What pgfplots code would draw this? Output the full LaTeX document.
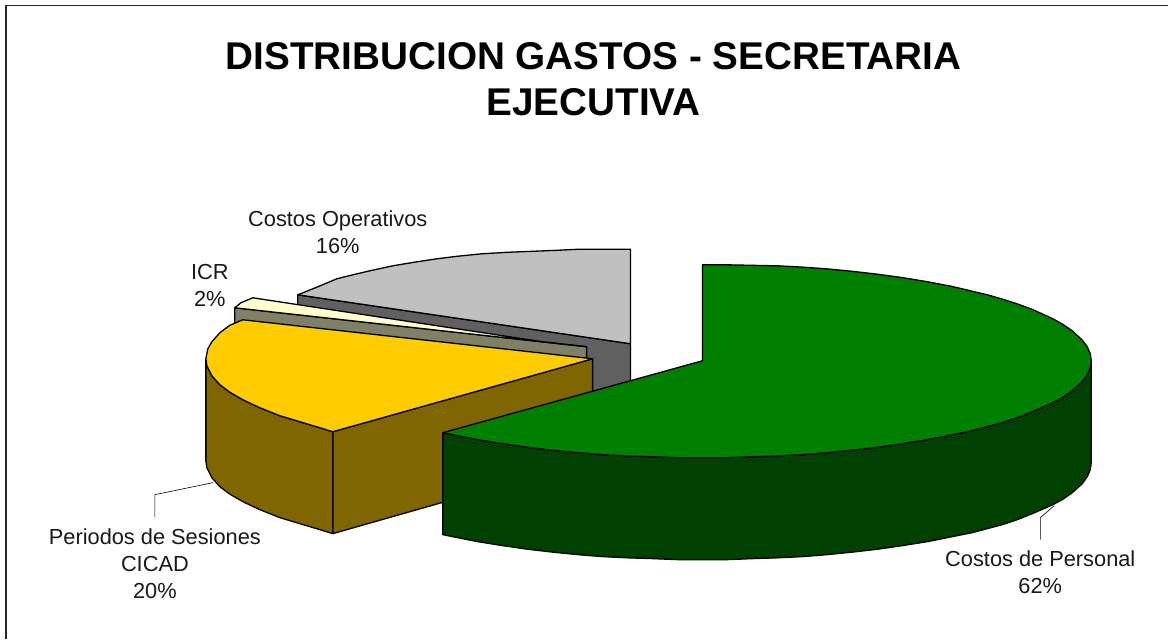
\documentclass[border=0pt]{standalone}
\usepackage{fontspec}
\setmainfont{Liberation Sans}
\usepackage{pgfplots}
\pgfplotsset{compat=1.18}

\definecolor{gtop}{HTML}{008000}
\definecolor{gside}{HTML}{004000}
\definecolor{ytop}{HTML}{FFCC00}
\definecolor{yside}{HTML}{806600}
\definecolor{ctop}{HTML}{FFFFCC}
\definecolor{cside}{HTML}{808066}
\definecolor{stop}{HTML}{C0C0C0}
\definecolor{sside}{HTML}{606060}
\tikzset{lbl/.style={font=\fontsize{21.8}{27}\selectfont, align=center, text=black!90}}

\begin{document}
\begin{tikzpicture}
\begin{axis}[
  scale only axis,
  width=1169pt, height=639pt,
  xmin=0, xmax=1169, ymin=0, ymax=639,
  y dir=reverse,
  hide axis,
  clip=false,
  every axis plot/.append style={line width=1.3pt, line join=round},
]
\path (rel axis cs:0,0) rectangle (rel axis cs:1,1);
% frame, only top and left are in the picture
\addplot[black!85, line width=1.6pt] coordinates {(1169,5.5) (6,5.5) (6,639)};

% Costos Operativos
\addplot[fill=sside, draw=black] coordinates {(298,295) (631,344) (631,445) (298,396)} -- cycle;
\addplot[fill=stop, draw=black] coordinates {
  (298,295) (318,287) (337,279) (353,275) (370,271) (393,266) (417,262) (437,259) (457,256.5)
  (482,254) (507,252.5) (532,251.5) (557,250.5) (577,249.5) (631,249.5) (631,344)
} -- cycle;

% ICR
\addplot[fill=cside, draw=black] coordinates {(235,308) (587,347) (587,362) (235,325)} -- cycle;
\addplot[fill=ctop, draw=black] coordinates {(235,308) (241,303) (253,298) (543,342) (587,347)} -- cycle;

% Periodos de Sesiones
\addplot[fill=yside, draw=black] coordinates {(333,432) (593,359) (593,460) (333,534)} -- cycle;
\addplot[fill=yside, draw=black] coordinates {
  (206,359) (207,366) (212,376) (220,385) (230,392.5) (243,400) (260,408) (280,416) (300,422) (320,428) (333,432)
  (333,534) (320,530) (300,524) (280,518) (260,510) (243,502) (230,494.5) (220,487) (212,478) (207,468) (206,461)
} -- cycle;
\addplot[fill=ytop, draw=black] coordinates {
  (593,359) (243,320) (230,325.5) (220,333) (212,342) (208,349) (206,359) (207,366) (212,376) (220,385)
  (230,392.5) (243,400) (260,408) (280,416) (300,422) (320,428) (333,432)
} -- cycle;

% Costos de Personal
\addplot[fill=gside, draw=black] coordinates {
  (1092,361) (1091,368) (1088,375) (1083,382) (1073,391) (1063,398) (1053,403.3) (1033,412) (1018,418)
  (1003,423) (988,427) (973,431) (943,437) (928,440) (903,444) (878,447.6) (853,450.5) (828,453)
  (803,455) (778,456.2) (753,457) (728,458) (703,458) (678,458) (653,457) (628,456.2) (603,455)
  (578,453) (553,450.5) (528,447.6) (503,444) (478,440) (443,433)
  (443,535) (478,542) (503,546) (528,549.6) (553,552.5) (578,555) (603,557) (628,558.2) (653,559)
  (678,560) (703,560) (728,560) (753,559) (778,558.2) (803,557) (828,555) (853,552.5) (878,549.6)
  (903,546) (928,542) (943,539) (973,533) (988,529) (1003,525) (1018,520) (1033,514) (1053,505.3)
  (1063,500) (1073,493) (1083,484) (1088,477) (1091,470) (1092,463)
} -- cycle;
\addplot[fill=gtop, draw=black] coordinates {
  (703,361) (703,265) (728,265) (753,265.5) (778,266) (803,267.3) (828,269.1) (853,271.5) (878,274.4)
  (903,277.8) (928,281.9) (953,286.7) (988,295) (1003,299.3) (1018,304.1) (1033,309.6) (1053,318.7)
  (1063,324.2) (1073,331.1) (1083,340.3) (1088,347.1) (1091,354) (1092,361)
  (1091,368) (1088,375) (1083,382) (1073,391) (1063,398) (1053,403.3) (1033,412) (1018,418)
  (1003,423) (988,427) (973,431) (943,437) (928,440) (903,444) (878,447.6) (853,450.5) (828,453)
  (803,455) (778,456.2) (753,457) (728,458) (703,458) (678,458) (653,457) (628,456.2) (603,455)
  (578,453) (553,450.5) (528,447.6) (503,444) (478,440) (443,433)
} -- cycle;

% leader lines
\addplot[black, line width=0.6pt] coordinates {(155,518) (155,495) (213,483)};
\addplot[black, line width=0.6pt] coordinates {(1041,540) (1041,518) (1055,506)};

% title and labels
\node[font=\bfseries\fontsize{38.7}{46}\selectfont, align=center] at (axis cs:594,79)
  {DISTRIBUCION GASTOS - SECRETARIA\\EJECUTIVA};
\node[lbl] at (axis cs:338,232) {Costos Operativos\\16\%};
\node[lbl] at (axis cs:210,286) {ICR\\2\%};
\node[lbl] at (axis cs:155,564) {Periodos de Sesiones\\CICAD\\20\%};
\node[lbl] at (axis cs:1041,573) {Costos de Personal\\62\%};
\end{axis}
\end{tikzpicture}
\end{document}
